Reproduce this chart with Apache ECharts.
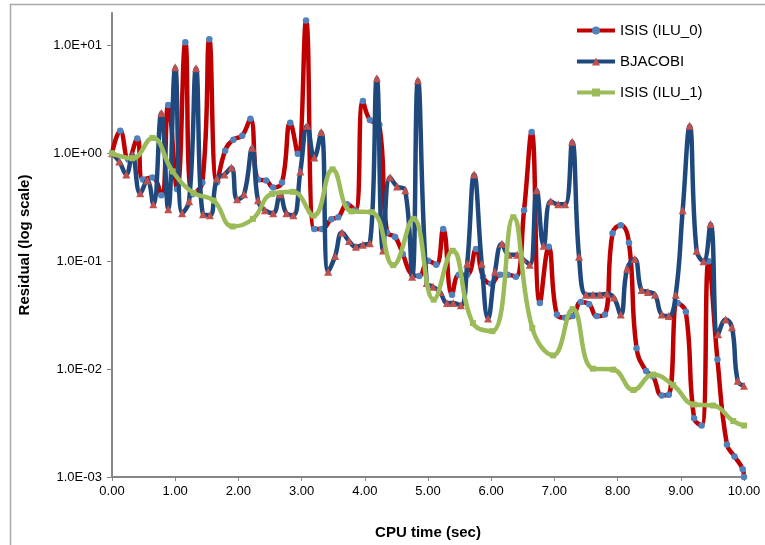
<!DOCTYPE html>
<html>
<head>
<meta charset="utf-8">
<script src="https://cdn.jsdelivr.net/npm/echarts@6/dist/echarts.min.js"></script>
<style>
html,body{margin:0;padding:0;background:#fff;}
#chart{width:765px;height:545px;}
</style>
</head>
<body>
<div id="chart"></div>
<script>
// ---- data ----
const seriesNames = ['ISIS (ILU_0)', 'BJACOBI', 'ISIS (ILU_1)'];

const ilu0Time = [0.00,0.13,0.26,0.40,0.49,0.64,0.78,0.89,1.03,1.16,1.27,1.43,1.54,1.66,1.79,1.92,2.06,2.19,2.31,2.44,2.55,2.69,2.82,2.94,3.07,3.20,3.32,3.47,3.58,3.72,3.85,3.97,4.08,4.23,4.35,4.48,4.60,4.75,4.86,5.00,5.13,5.24,5.38,5.49,5.62,5.76,5.87,6.00,6.14,6.26,6.39,6.52,6.64,6.77,6.91,7.04,7.17,7.29,7.42,7.55,7.67,7.80,7.92,8.05,8.18,8.30,8.45,8.56,8.70,8.81,8.95,9.08,9.21,9.33,9.44,9.58,9.73,9.85,9.98,10.00];
const ilu0Res = [1.0,1.62,0.875,1.37,0.573,0.598,0.408,2.81,0.464,10.7,0.417,0.537,11.4,0.537,1.06,1.34,1.46,2.09,0.573,0.561,0.483,0.537,1.92,0.99,17.0,0.199,0.199,0.245,0.256,0.337,0.297,3.05,2.04,1.84,0.186,0.168,0.117,0.075,0.073,0.101,0.093,0.199,0.049,0.075,0.075,0.130,0.072,0.062,0.075,0.075,0.072,0.297,1.58,0.041,0.136,0.032,0.030,0.031,0.042,0.040,0.031,0.032,0.182,0.216,0.148,0.0156,0.0096,0.0086,0.0057,0.0058,0.041,0.034,0.0035,0.0030,0.10,0.0123,0.0020,0.00155,0.00118,0.00100];

const bjTime = [0.00,0.115,0.226,0.32,0.447,0.558,0.653,0.78,0.89,1.00,1.11,1.22,1.33,1.44,1.55,1.66,1.78,1.89,1.98,2.09,2.22,2.31,2.42,2.55,2.66,2.76,2.87,2.98,3.09,3.20,3.31,3.42,3.53,3.64,3.75,3.86,3.97,4.08,4.19,4.29,4.40,4.51,4.64,4.75,4.84,4.98,5.08,5.19,5.30,5.40,5.52,5.62,5.73,5.85,5.95,6.06,6.17,6.28,6.41,6.50,6.61,6.72,6.83,6.94,7.06,7.17,7.28,7.39,7.50,7.61,7.72,7.83,7.94,8.05,8.15,8.27,8.38,8.48,8.59,8.70,8.81,8.92,9.03,9.14,9.25,9.36,9.47,9.59,9.71,9.81,9.90,10.00];
const bjRes = [1.0,0.839,0.637,0.973,0.426,0.561,0.337,2.37,0.303,6.28,0.279,0.36,6.14,0.273,0.267,0.585,0.637,0.738,0.375,0.417,1.13,0.367,0.297,0.279,0.417,0.279,0.267,0.679,1.80,0.913,1.58,0.080,0.112,0.185,0.154,0.136,0.142,0.147,4.97,0.126,0.60,0.494,0.454,0.072,4.76,0.063,0.058,0.052,0.041,0.041,0.039,0.095,0.637,0.095,0.0295,0.080,0.145,0.115,0.115,0.105,0.093,0.454,0.139,0.36,0.337,0.337,1.28,0.110,0.049,0.049,0.049,0.050,0.046,0.032,0.085,0.105,0.054,0.052,0.049,0.032,0.031,0.049,0.297,1.80,0.125,0.10,0.221,0.021,0.0289,0.0244,0.0078,0.0070];

const ilu1Time = [0.00,0.32,0.64,0.96,1.29,1.61,1.91,2.23,2.53,2.86,3.19,3.49,3.79,4.11,4.45,4.77,5.09,5.39,5.71,6.02,6.35,6.65,6.98,7.29,7.61,7.93,8.25,8.56,8.88,9.21,9.51,9.83,10.00];
const ilu1Res = [1.0,0.90,1.39,0.68,0.43,0.365,0.21,0.247,0.42,0.44,0.265,0.71,0.29,0.285,0.092,0.247,0.044,0.125,0.0267,0.0225,0.256,0.024,0.0134,0.036,0.0101,0.0099,0.0064,0.0089,0.0071,0.0047,0.0046,0.0033,0.0030];

const xTicks = [0,1,2,3,4,5,6,7,8,9,10];
const yTicks = [0.001,0.01,0.1,1,10];

// ---- chart ----
const pairs = (xs, ys) => xs.map((x, i) => [x, ys[i]]);
const FONT = 'Liberation Sans';

function sciLabel(v) {
  const e = Math.round(Math.log10(v));
  const sign = e < 0 ? '-' : '+';
  const a = Math.abs(e);
  return '1.0E' + sign + (a < 10 ? '0' + a : '' + a);
}

const chart = echarts.init(document.getElementById('chart'), null, {renderer: 'canvas'});
chart.setOption({
  animation: false,
  backgroundColor: '#ffffff',
  textStyle: {fontFamily: FONT},
  graphic: [{
    type: 'rect', silent: true, z: -10,
    shape: {x: 10.5, y: 4.5, width: 900, height: 900},
    style: {fill: 'none', stroke: '#a8a8a8', lineWidth: 1.5}
  }],
  grid: {left: 112, right: 21, top: 13, bottom: 65},
  legend: {
    orient: 'vertical', left: 570, top: 18,
    itemWidth: 38, itemHeight: 10, itemGap: 16,
    lineStyle: {width: 4},
    textStyle: {fontSize: 15, color: '#000', fontFamily: FONT},
    data: seriesNames
  },
  xAxis: {
    type: 'value', min: xTicks[0], max: xTicks[xTicks.length - 1], interval: 1,
    name: 'CPU time (sec)', nameLocation: 'middle', nameGap: 48,
    nameTextStyle: {fontSize: 15, fontWeight: 'bold', color: '#000', fontFamily: FONT},
    axisLine: {lineStyle: {color: '#868686', width: 2}},
    axisTick: {show: true, inside: false, length: 4, lineStyle: {color: '#868686', width: 1}},
    axisLabel: {fontSize: 13, color: '#000', margin: 8, formatter: v => v.toFixed(2)},
    splitLine: {show: false}
  },
  yAxis: {
    type: 'log', logBase: 10, min: 0.001, max: 20,
    name: 'Residual (log scale)', nameLocation: 'middle', nameGap: 80, nameRotate: 90,
    nameTextStyle: {fontSize: 15, fontWeight: 'bold', color: '#000', fontFamily: FONT},
    axisLine: {show: true, lineStyle: {color: '#868686', width: 2}},
    axisTick: {show: true, inside: false, length: 5, customValues: yTicks, lineStyle: {color: '#868686', width: 1}},
    axisLabel: {fontSize: 13, color: '#000', margin: 10, customValues: yTicks, formatter: v => sciLabel(v)},
    minorTick: {show: false},
    splitLine: {show: false}
  },
  series: [
    {
      name: seriesNames[0], type: 'line', smooth: 0.45, z: 2,
      data: pairs(ilu0Time, ilu0Res),
      lineStyle: {color: '#C00000', width: 4.5},
      symbol: 'circle', symbolSize: 6.5,
      itemStyle: {color: '#4F81BD', borderWidth: 0},
      color: '#C00000'
    },
    {
      name: seriesNames[1], type: 'line', smooth: 0.45, z: 3,
      data: pairs(bjTime, bjRes),
      lineStyle: {color: '#1F497D', width: 4.5},
      symbol: 'triangle', symbolSize: 8,
      itemStyle: {color: '#C0504D', borderWidth: 0},
      color: '#1F497D'
    },
    {
      name: seriesNames[2], type: 'line', smooth: 0.45, z: 4,
      data: pairs(ilu1Time, ilu1Res),
      lineStyle: {color: '#9BBB59', width: 4.5},
      symbol: 'rect', symbolSize: 6,
      itemStyle: {color: '#9BBB59', borderWidth: 0},
      color: '#9BBB59'
    }
  ]
});
</script>
</body>
</html>
